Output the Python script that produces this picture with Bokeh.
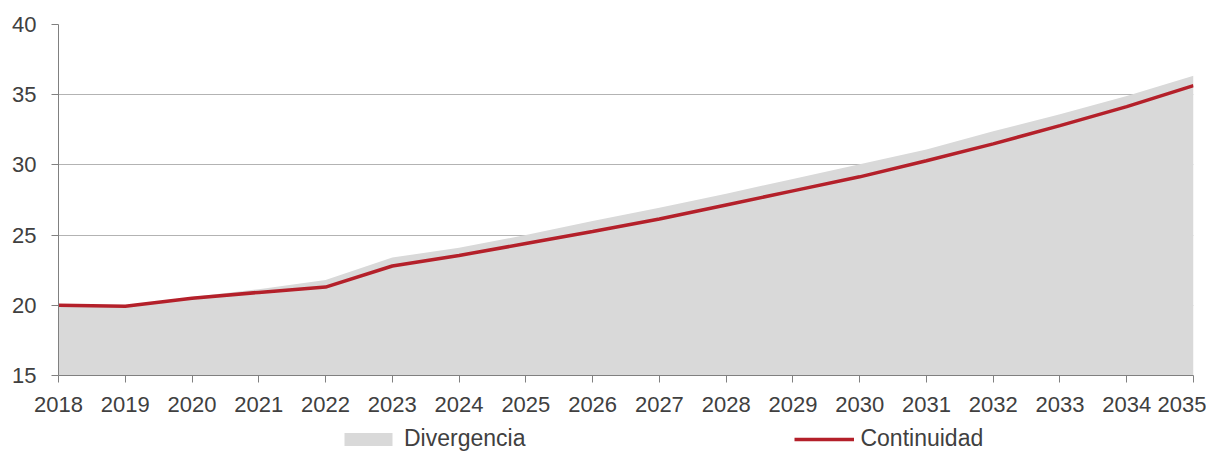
from bokeh.plotting import figure
from bokeh.layouts import column
from bokeh.models import Range1d, FixedTicker, Legend, LegendItem
from bokeh.embed import file_html
from bokeh.resources import INLINE

years = list(range(2018, 2036))
divergencia = [20.0, 19.9, 20.6, 21.15, 21.8, 23.4, 24.1, 25.0, 26.0, 26.95,
               27.95, 29.0, 30.05, 31.1, 32.4, 33.6, 34.9, 36.35]
continuidad = [20.0, 19.93, 20.5, 20.92, 21.3, 22.8, 23.55, 24.4, 25.25, 26.15,
               27.15, 28.15, 29.15, 30.3, 31.5, 32.8, 34.15, 35.65]
y_ticks = [15, 20, 25, 30, 35, 40]
series_names = ["Divergencia", "Continuidad"]

FONT = "'Liberation Sans', Arial, sans-serif"
TXT = "#404040"
AREA_COLOR = "#d9d9d9"
LINE_COLOR = "#b4202a"

# main chart
p = figure(width=1206, height=424, output_backend="svg", toolbar_location=None,
           x_range=Range1d(years[0], years[-1]), y_range=Range1d(15, 40),
           min_border_left=58, min_border_right=13, min_border_top=24,
           min_border_bottom=49)
p.outline_line_color = None
p.background_fill_color = "white"
p.border_fill_color = "white"

p.varea(x=years, y1=15, y2=divergencia, fill_color=AREA_COLOR)
p.line(x=years, y=continuidad, line_color=LINE_COLOR, line_width=3.5)

p.xgrid.grid_line_color = None
p.ygrid.grid_line_color = "#b3b3b3"
p.ygrid.grid_line_width = 1

p.xaxis.ticker = FixedTicker(ticks=years)
p.yaxis.ticker = FixedTicker(ticks=y_ticks)
for ax in (p.xaxis, p.yaxis):
    ax.axis_line_color = "#808080"
    ax.major_tick_line_color = "#808080"
    ax.major_tick_out = 7
    ax.major_tick_in = 0
    ax.minor_tick_line_color = None
    ax.major_label_text_font = FONT
    ax.major_label_text_font_size = "22px"
    ax.major_label_text_color = TXT
p.xaxis.major_label_standoff = 14
p.yaxis.major_label_standoff = 15

# legend strip below the chart (its renderers hold the same series but lie
# outside this strip's view, so only the legend swatches show)
lg = figure(width=1206, height=28, output_backend="svg", toolbar_location=None,
            x_range=Range1d(0, 1), y_range=Range1d(0, 1),
            x_axis_type=None, y_axis_type=None, min_border=0)
lg.outline_line_color = None
lg.background_fill_color = "white"
lg.border_fill_color = "white"
leg_area = lg.varea(x=years, y1=15, y2=divergencia, fill_color=AREA_COLOR)
leg_line = lg.line(x=years, y=continuidad, line_color=LINE_COLOR, line_width=3.5)

legend = Legend(items=[LegendItem(label=series_names[0], renderers=[leg_area]),
                       LegendItem(label=series_names[1], renderers=[leg_line])],
                orientation="horizontal", location=(280, 0),
                glyph_width=60, glyph_height=16, label_standoff=6,
                spacing=269, padding=0, margin=0,
                border_line_color=None, background_fill_alpha=0,
                label_text_font=FONT, label_text_font_size="23px",
                label_text_color=TXT)
lg.add_layout(legend, "center")

layout = column(p, lg, spacing=0)
open("out.html", "w").write(file_html(layout, INLINE))
